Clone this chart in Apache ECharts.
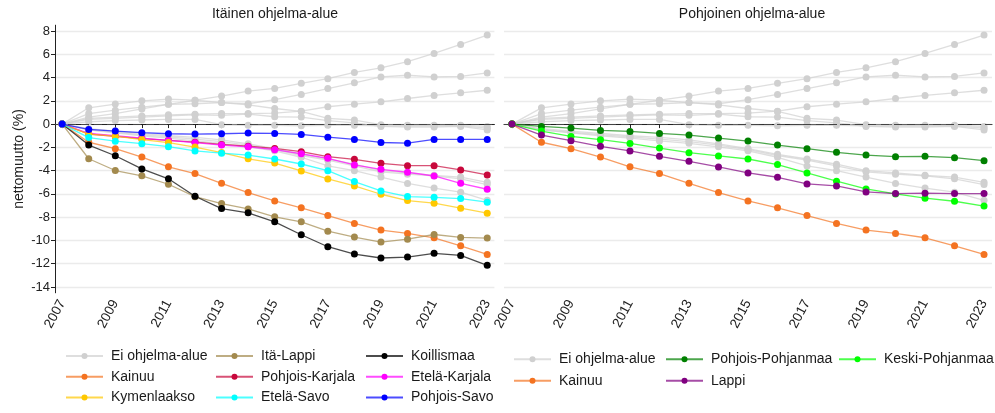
<!DOCTYPE html>
<html><head><meta charset="utf-8">
<script src="https://cdn.jsdelivr.net/npm/echarts@6/dist/echarts.min.js"></script>
<style>html,body{margin:0;padding:0;background:#fff}#c{width:995px;height:413px}</style>
</head><body><div id="c"></div>
<script>
// ---- data ----
const years = [2007,2008,2009,2010,2011,2012,2013,2014,2015,2016,2017,2018,2019,2020,2021,2022,2023];
const xLabelYears = [2007,2009,2011,2013,2015,2017,2019,2021,2023];
const yTicks = [-14,-12,-10,-8,-6,-4,-2,0,2,4,6,8];

// Ei ohjelma-alue (grey lines)
const grayA = [0,1.4,1.72,2.0,2.15,2.06,2.41,2.84,3.07,3.5,3.9,4.44,4.84,5.36,6.07,6.85,7.65];
const grayB = [0,0.9,1.2,1.45,1.7,1.75,1.85,1.75,2.1,2.55,3.05,3.55,4.05,4.2,4.05,4.1,4.4];
const grayC = [0,0.5,0.6,0.7,0.8,0.85,0.9,0.9,0.95,1.11,1.49,1.71,1.91,2.2,2.46,2.69,2.91];
const grayD = [0,0.6,0.9,1.3,1.7,2.05,1.85,1.65,1.34,1.09,0.5,0.35,-0.05,-0.1,-0.1,-0.1,-0.2];
const grayE = [0,0.4,0.5,0.6,0.7,0.8,0.75,0.85,0.63,0.6,0.3,0.1,-0.2,-0.25,-0.25,-0.2,-0.5];
const grayF = [0,0.2,0.3,0.35,0.4,0.4,-0.05,-0.1,-0.1,-0.15,-0.1,-0.1,-0.15,-0.15,-0.15,-0.15,-0.35];
const grayG = [0,-0.4,-0.6,-0.8,-1.0,-1.15,-1.35,-1.7,-2.1,-2.6,-3.0,-3.45,-4.0,-4.2,-4.4,-4.55,-5.0];
const grayH = [0,-0.5,-0.7,-0.9,-1.1,-1.3,-1.5,-1.8,-2.2,-2.7,-3.1,-3.6,-4.1,-4.3,-4.45,-4.7,-5.2];
const grayI = [0,-0.5,-0.75,-1.0,-1.2,-1.45,-1.65,-1.95,-2.3,-2.85,-3.6,-4.0,-4.55,-5.1,-5.5,-5.85,-6.55];

const kainuu = [0,-1.56,-2.11,-2.83,-3.67,-4.25,-5.09,-5.89,-6.6,-7.2,-7.86,-8.54,-9.11,-9.4,-9.77,-10.46,-11.2];
const itaLappi = [0,-2.98,-3.99,-4.45,-5.17,-6.24,-6.83,-7.29,-7.97,-8.4,-9.2,-9.71,-10.14,-9.89,-9.49,-9.74,-9.8];
const koillismaa = [0,-1.8,-2.72,-3.85,-4.7,-6.2,-7.26,-7.63,-8.4,-9.51,-10.54,-11.17,-11.51,-11.43,-11.11,-11.29,-12.14];
const pohjoisKarjala = [0,-0.85,-1.05,-1.25,-1.4,-1.55,-1.75,-1.9,-2.09,-2.37,-2.8,-3.03,-3.37,-3.57,-3.57,-3.94,-4.37];
const etelaKarjala = [0,-0.8,-1.0,-1.2,-1.4,-1.6,-1.8,-1.95,-2.2,-2.55,-2.94,-3.51,-3.89,-4.14,-4.46,-5.09,-5.6];
const kymenlaakso = [0,-0.87,-1.04,-1.33,-1.59,-1.97,-2.45,-2.98,-3.35,-4.03,-4.71,-5.31,-6.03,-6.57,-6.8,-7.23,-7.66];
const etelaSavo = [0,-1.16,-1.47,-1.68,-1.94,-2.31,-2.5,-2.66,-3.0,-3.43,-4.0,-4.94,-5.74,-6.23,-6.29,-6.4,-6.71];
const pohjoisSavo = [0,-0.46,-0.6,-0.74,-0.83,-0.86,-0.83,-0.77,-0.8,-0.89,-1.12,-1.32,-1.58,-1.64,-1.32,-1.32,-1.32];

const pohjoisPohjanmaa = [0,-0.2,-0.34,-0.54,-0.63,-0.8,-0.94,-1.2,-1.46,-1.8,-2.11,-2.43,-2.66,-2.8,-2.77,-2.89,-3.14];
const keskiPohjanmaa = [0,-0.6,-1.06,-1.34,-1.66,-2.06,-2.46,-2.74,-3.0,-3.48,-4.2,-4.91,-5.57,-6.0,-6.37,-6.63,-7.05];
const lappi = [0,-0.94,-1.43,-1.91,-2.31,-2.77,-3.2,-3.68,-4.2,-4.57,-5.14,-5.31,-5.83,-5.97,-5.94,-5.97,-5.97];

const titles = ['Itäinen ohjelma-alue','Pohjoinen ohjelma-alue'];
const yName = 'nettomuutto (%)';
const grayName = 'Ei ohjelma-alue';

// ---- build ----
const FONT = '"Liberation Sans", Arial, sans-serif';
const grays = [grayA,grayB,grayC,grayD,grayE,grayF,grayG,grayH,grayI];
const eastSeries = [
  ['Kainuu', kainuu, '#f47321'],
  ['Itä-Lappi', itaLappi, '#a38a4e'],
  ['Koillismaa', koillismaa, '#000000'],
  ['Pohjois-Karjala', pohjoisKarjala, '#c8083c'],
  ['Etelä-Karjala', etelaKarjala, '#ff00ff'],
  ['Kymenlaakso', kymenlaakso, '#ffc800'],
  ['Etelä-Savo', etelaSavo, '#00ffff'],
  ['Pohjois-Savo', pohjoisSavo, '#0000ff']
];
const northSeries = [
  ['Kainuu', kainuu, '#f47321'],
  ['Pohjois-Pohjanmaa', pohjoisPohjanmaa, '#008000'],
  ['Keski-Pohjanmaa', keskiPohjanmaa, '#00ff00'],
  ['Lappi', lappi, '#800080']
];

function mk(name, vals, color, gi, z) {
  return {
    type: 'line', name: name, xAxisIndex: gi, yAxisIndex: gi,
    data: years.map((y, i) => [y, vals[i]]),
    symbol: 'circle', symbolSize: 7, showSymbol: true,
    lineStyle: { width: 1.3, color: color, opacity: 0.7 },
    itemStyle: { color: color },
    z: z, animation: false, silent: true, emphasis: { disabled: true }
  };
}

const series = [];
[0, 1].forEach(gi => {
  grays.forEach(g => series.push(mk(grayName, g, '#d0d0d0', gi, 2)));
  series.push({
    type: 'line', name: '', xAxisIndex: gi, yAxisIndex: gi, data: [], z: 3,
    markLine: { silent: true, symbol: 'none', label: { show: false },
      lineStyle: { color: '#444', type: [8, 5], width: 1.1 },
      data: [{ yAxis: 0 }], animation: false }
  });
  const list = gi === 0 ? eastSeries : northSeries;
  list.forEach((s, k) => series.push(mk(s[0], s[1], s[2], gi, 4 + k)));
});

const grids = [
  { left: 55, top: 25.2, width: 439.4, height: 267.6 },
  { left: 504, top: 25.2, width: 488, height: 267.6 }
];

const xAxes = [0, 1].map(gi => ({
  type: 'value', gridIndex: gi, min: 2006.73, max: 2023.27,
  axisLine: { show: true, lineStyle: { color: '#222', width: 1 } },
  axisTick: { show: true, length: 4, customValues: years, lineStyle: { color: '#222' } },
  axisLabel: { customValues: xLabelYears, rotate: 62, fontSize: 13.5, fontFamily: FONT, color: '#222', margin: 8,
               formatter: v => String(v) },
  splitLine: { show: false }
}));
const yAxes = [0, 1].map(gi => ({
  type: 'value', gridIndex: gi, min: -14.5, max: 8.5,
  name: gi === 0 ? yName : '', nameLocation: 'middle', nameGap: 29,
  nameTextStyle: { fontSize: 14, fontFamily: FONT, color: '#222' },
  axisLine: { show: gi === 0, lineStyle: { color: '#222', width: 1 } },
  axisTick: { show: gi === 0, length: 4, customValues: yTicks, lineStyle: { color: '#222' } },
  axisLabel: { show: gi === 0, customValues: yTicks, fontSize: 13, fontFamily: FONT, color: '#222', margin: 5 },
  splitLine: { show: true, lineStyle: { color: '#ebebeb', width: 1.3 } }
}));

function legendCol(left, top, names, pitch) {
  return {
    orient: 'vertical', left: left, top: top, padding: 0, itemWidth: 37, itemHeight: 7.5,
    itemGap: pitch - 16, data: names, selectedMode: false,
    textStyle: { fontSize: 14, fontFamily: FONT, color: '#1a1a1a', lineHeight: 16, padding: [0, 0, 0, 3] }
  };
}
const legends = [
  legendCol(65, 348, [grayName, 'Kainuu', 'Kymenlaakso'], 20.7),
  legendCol(215, 348, ['Itä-Lappi', 'Pohjois-Karjala', 'Etelä-Savo'], 20.7),
  legendCol(365, 348, ['Koillismaa', 'Etelä-Karjala', 'Pohjois-Savo'], 20.7),
  legendCol(513, 351.3, [grayName, 'Kainuu'], 21.4),
  legendCol(665, 351.3, ['Pohjois-Pohjanmaa', 'Lappi'], 21.4),
  legendCol(838, 351.3, ['Keski-Pohjanmaa'], 21.4)
];

const chart = echarts.init(document.getElementById('c'), null, { renderer: 'canvas' });
chart.setOption({
  animation: false,
  backgroundColor: '#fff',
  title: [
    { text: titles[0], left: 275, top: 7, padding: 0, textAlign: 'center', textStyle: { fontSize: 14, fontWeight: 'normal', fontFamily: FONT, color: '#1a1a1a' } },
    { text: titles[1], left: 752, top: 7, padding: 0, textAlign: 'center', textStyle: { fontSize: 14, fontWeight: 'normal', fontFamily: FONT, color: '#1a1a1a' } }
  ],
  grid: grids,
  xAxis: xAxes,
  yAxis: yAxes,
  legend: legends,
  series: series
});
</script></body></html>
